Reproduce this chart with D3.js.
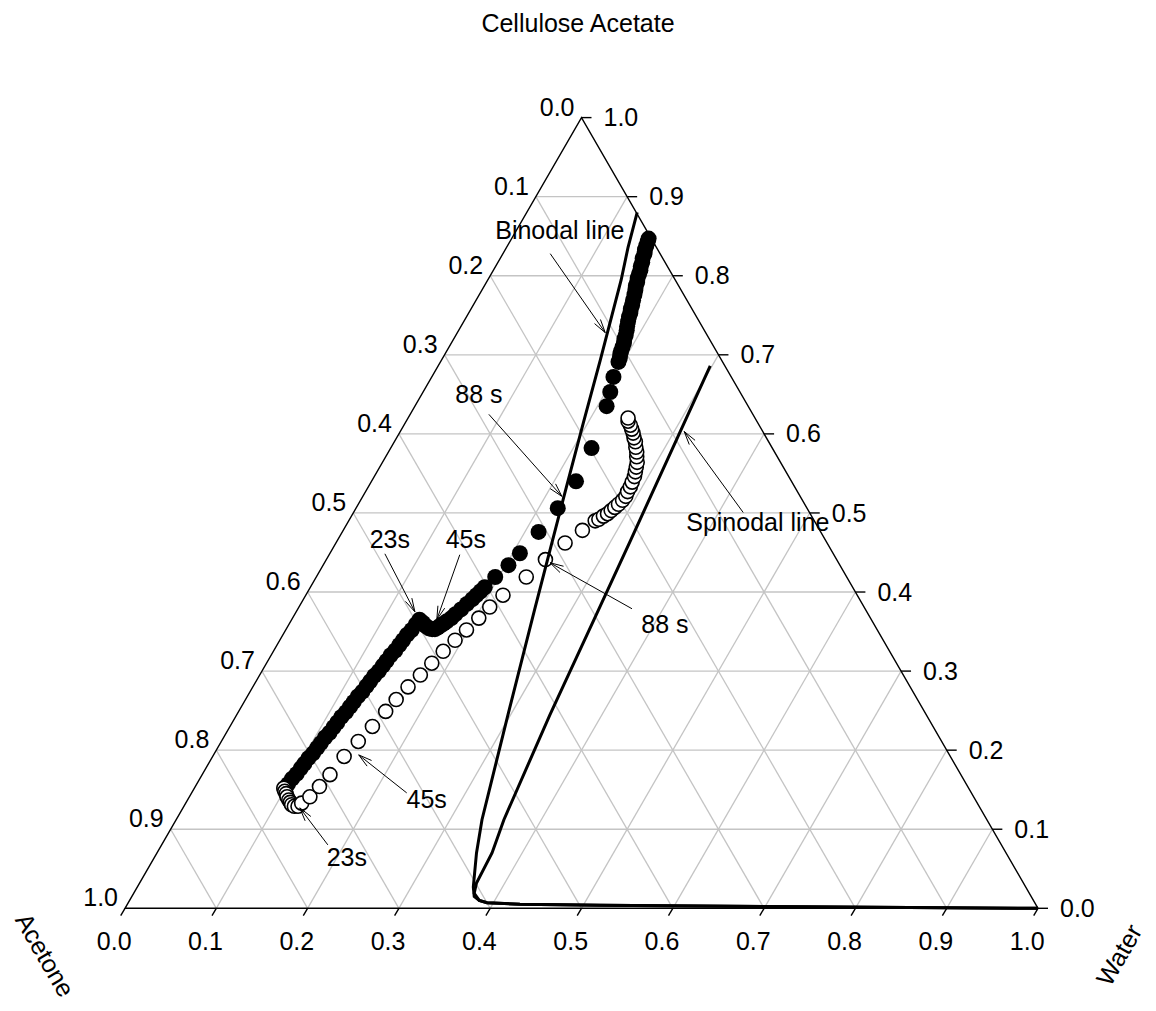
<!DOCTYPE html>
<html>
<head>
<meta charset="utf-8">
<script src="https://cdn.jsdelivr.net/npm/d3@7"></script>
<style>
body { margin: 0; background: #fff; }
text { font-family: "Liberation Sans", Arial, Helvetica, sans-serif; font-size: 25px; fill: #000; }
</style>
</head>
<body>
<div id="chart"></div>
<script>
var width = 1156,
    height = 1011;

// compositions are [water, cellulose acetate]; acetone = 1 - water - CA
const tickValues = [0, 0.1, 0.2, 0.3, 0.4, 0.5, 0.6, 0.7, 0.8, 0.9, 1.0];
const axisNames = { top: "Cellulose Acetate", left: "Acetone", right: "Water" };

// filled circles
const filledPts = [
  [0.099,0.151],[0.100,0.157],[0.101,0.164],[0.103,0.170],[0.104,0.177],[0.105,0.183],[0.106,0.190],[0.108,0.196],
  [0.109,0.203],[0.110,0.209],[0.111,0.216],[0.113,0.222],[0.114,0.229],[0.115,0.235],[0.116,0.242],[0.118,0.248],
  [0.119,0.255],[0.120,0.261],[0.121,0.268],[0.123,0.274],[0.124,0.281],[0.125,0.287],[0.126,0.294],[0.128,0.300],
  [0.129,0.307],[0.130,0.313],[0.131,0.320],[0.133,0.326],[0.134,0.333],[0.135,0.339],[0.136,0.346],[0.138,0.352],
  [0.139,0.359],[0.140,0.365],
  [0.146,0.361],[0.151,0.357],[0.156,0.354],[0.160,0.353],[0.163,0.353],[0.165,0.355],[0.167,0.358],[0.169,0.360],
  [0.171,0.363],[0.174,0.367],[0.176,0.372],[0.179,0.378],[0.182,0.385],[0.185,0.391],[0.187,0.396],[0.189,0.401],
  [0.191,0.406],[0.196,0.419],[0.203,0.434],[0.208,0.449],[0.215,0.476],[0.221,0.506],[0.224,0.540],[0.220,0.582],
  [0.210,0.635],[0.205,0.653],[0.199,0.672],
  [0.195,0.691],[0.194,0.696],[0.192,0.701],[0.191,0.705],[0.190,0.710],[0.189,0.715],[0.187,0.720],[0.186,0.725],
  [0.184,0.731],[0.182,0.736],[0.180,0.742],[0.178,0.748],[0.177,0.753],[0.175,0.758],[0.174,0.763],[0.172,0.769],
  [0.170,0.776],[0.168,0.782],[0.166,0.787],[0.165,0.792],[0.163,0.797],[0.162,0.802],[0.161,0.807],[0.159,0.812],
  [0.158,0.817],[0.156,0.822],[0.155,0.828],[0.153,0.833],[0.152,0.838],[0.151,0.843],[0.150,0.847]
];

// open circles
const openPts = [
  [0.098,0.152],[0.101,0.148],[0.104,0.145],[0.107,0.141],[0.111,0.137],[0.114,0.134],[0.117,0.131],[0.121,0.129],
  [0.125,0.129],[0.127,0.133],[0.132,0.141],[0.136,0.154],[0.140,0.169],[0.144,0.192],[0.150,0.211],[0.156,0.230],
  [0.161,0.249],[0.165,0.264],[0.170,0.280],[0.176,0.295],[0.181,0.310],[0.186,0.325],[0.192,0.339],[0.198,0.352],
  [0.204,0.367],[0.209,0.381],[0.216,0.396],[0.230,0.419],[0.240,0.441],[0.251,0.462],[0.262,0.478],
  [0.270,0.490],[0.273,0.492],[0.276,0.496],[0.279,0.499],[0.281,0.503],[0.283,0.507],[0.285,0.511],[0.287,0.516],
  [0.288,0.521],[0.287,0.527],[0.287,0.533],[0.286,0.539],[0.285,0.546],[0.283,0.552],[0.281,0.558],[0.279,0.564],
  [0.275,0.571],[0.272,0.577],[0.268,0.583],[0.264,0.590],[0.260,0.595],[0.256,0.601],[0.252,0.606],[0.248,0.611],
  [0.243,0.616],[0.241,0.620]
];

const binodalPts = [
  [0.121,0.880],[0.133,0.836],[0.146,0.795],[0.174,0.693],[0.195,0.614],[0.217,0.533],[0.239,0.453],[0.260,0.377],
  [0.297,0.245],[0.335,0.112],[0.350,0.070],[0.368,0.027],[0.375,0.015],[0.383,0.010],[0.393,0.007],[0.430,0.005],
  [0.519,0.004],[0.738,0.002],[1.000,0.000]
];

const spinodalPts = [
  [0.298,0.686],[0.321,0.466],[0.330,0.377],[0.343,0.245],[0.359,0.112],[0.367,0.070],[0.369,0.032],[0.373,0.019],
  [0.383,0.010],[0.393,0.007],[0.430,0.005],[0.519,0.004],[0.738,0.002],[1.000,0.000]
];

// arrows: tip composition, tail and text offsets in px
const annotations = [
  { label: "Binodal line", tip: [0.162, 0.728], tail: [-55, -79], text: [-110, -94], anchor: "start" },
  { label: "88 s", tip: [0.218, 0.521], tail: [-73, -82], text: [-83, -93], anchor: "middle" },
  { label: "Spinodal line", tip: [0.311, 0.603], tail: [59, 81], text: [2, 99], anchor: "start" },
  { label: "23s", tip: [0.130, 0.375], tail: [-30, -58], text: [-25, -64], anchor: "middle" },
  { label: "45s", tip: [0.159, 0.365], tail: [23, -65], text: [29, -72], anchor: "middle" },
  { label: "88 s", tip: [0.247, 0.437], tail: [82, 46], text: [115, 70], anchor: "middle" },
  { label: "45s", tip: [0.159, 0.194], tail: [48, 38], text: [68, 53], anchor: "middle" },
  { label: "23s", tip: [0.128, 0.127], tail: [28, 37], text: [47, 58], anchor: "middle" }
];

var x = d3.scaleLinear().domain([0, 1]).range([125, 1038]);
var y = d3.scaleLinear().domain([0, 1]).range([908.3, 117.6]);

function proj(d) {
  return [x(d[0] + d[1] / 2), y(d[1])];
}

var svg = d3.select("#chart").append("svg")
    .attr("width", width)
    .attr("height", height);

var fmt = d3.format(".1f");
var inner = tickValues.slice(1, -1);

// grid
var grid = svg.append("g")
    .attr("stroke", "#c4c4c4")
    .attr("stroke-width", 1.3)
    .attr("fill", "none");

inner.forEach(function (k) {
  var segs = [
    [[0, k], [1 - k, k]],     // constant CA
    [[k, 0], [k, 1 - k]],     // constant water
    [[1 - k, 0], [0, 1 - k]]  // constant acetone
  ];
  segs.forEach(function (s) {
    var a = proj(s[0]), b = proj(s[1]);
    grid.append("line").attr("x1", a[0]).attr("y1", a[1]).attr("x2", b[0]).attr("y2", b[1]);
  });
});

// triangle
var corners = [[0, 0], [1, 0], [0, 1]].map(proj);
svg.append("path")
    .attr("d", "M" + corners.join("L") + "Z")
    .attr("fill", "none")
    .attr("stroke", "#000")
    .attr("stroke-width", 1.4);

// ticks + labels
var axes = svg.append("g");
tickValues.forEach(function (k) {
  // bottom (water)
  var b = proj([k, 0]);
  axes.append("line")
      .attr("x1", b[0]).attr("y1", b[1])
      .attr("x2", b[0] - 4.3).attr("y2", b[1] + 7.4)
      .attr("stroke", "#000").attr("stroke-width", 1.4);
  axes.append("text")
      .attr("x", b[0] - 10.8).attr("y", 950)
      .attr("text-anchor", "middle")
      .text(fmt(k));

  // right (CA)
  var r = proj([1 - k, k]);
  axes.append("line")
      .attr("x1", r[0]).attr("y1", r[1])
      .attr("x2", r[0] + 10).attr("y2", r[1])
      .attr("stroke", "#000").attr("stroke-width", 1.4);
  axes.append("text")
      .attr("x", r[0] + 22).attr("y", r[1] + 8.6)
      .attr("text-anchor", "start")
      .text(fmt(k));

  // left (acetone)
  var l = proj([0, 1 - k]);
  axes.append("text")
      .attr("x", l[0] - 7).attr("y", l[1] - 2)
      .attr("text-anchor", "end")
      .text(fmt(k));
});

// axis titles
svg.append("text")
    .attr("x", 578).attr("y", 32)
    .attr("text-anchor", "middle")
    .text(axisNames.top);

svg.append("text")
    .attr("transform", "translate(45,955) rotate(60)")
    .attr("text-anchor", "middle")
    .attr("dy", "0.35em")
    .text(axisNames.left);

svg.append("text")
    .attr("transform", "translate(1119,955) rotate(-60)")
    .attr("text-anchor", "middle")
    .attr("dy", "0.35em")
    .text(axisNames.right);

// data markers
svg.append("g")
  .selectAll("circle")
  .data(filledPts)
  .join("circle")
    .attr("cx", d => proj(d)[0])
    .attr("cy", d => proj(d)[1])
    .attr("r", 8)
    .attr("fill", "#000");

svg.append("g")
  .selectAll("circle")
  .data(openPts)
  .join("circle")
    .attr("cx", d => proj(d)[0])
    .attr("cy", d => proj(d)[1])
    .attr("r", 7)
    .attr("fill", "#fff")
    .attr("stroke", "#000")
    .attr("stroke-width", 1.6);

// binodal / spinodal lines
var line = d3.line().x(d => proj(d)[0]).y(d => proj(d)[1]).curve(d3.curveLinear);

svg.append("path")
    .attr("d", line(binodalPts))
    .attr("fill", "none")
    .attr("stroke", "#000")
    .attr("stroke-width", 3);

svg.append("path")
    .attr("d", line(spinodalPts))
    .attr("fill", "none")
    .attr("stroke", "#000")
    .attr("stroke-width", 3);

// annotations
var ann = svg.append("g");
annotations.forEach(function (a) {
  var t = proj(a.tip);
  var tx = t[0] + a.tail[0], ty = t[1] + a.tail[1];
  ann.append("line")
      .attr("x1", tx).attr("y1", ty).attr("x2", t[0]).attr("y2", t[1])
      .attr("stroke", "#000").attr("stroke-width", 1);
  var ang = Math.atan2(ty - t[1], tx - t[0]);
  [-0.26, 0.26].forEach(function (da) {
    ann.append("line")
        .attr("x1", t[0]).attr("y1", t[1])
        .attr("x2", t[0] + 14 * Math.cos(ang + da))
        .attr("y2", t[1] + 14 * Math.sin(ang + da))
        .attr("stroke", "#000").attr("stroke-width", 1);
  });
  ann.append("text")
      .attr("x", t[0] + a.text[0]).attr("y", t[1] + a.text[1])
      .attr("text-anchor", a.anchor)
      .text(a.label);
});
</script>
</body>
</html>
